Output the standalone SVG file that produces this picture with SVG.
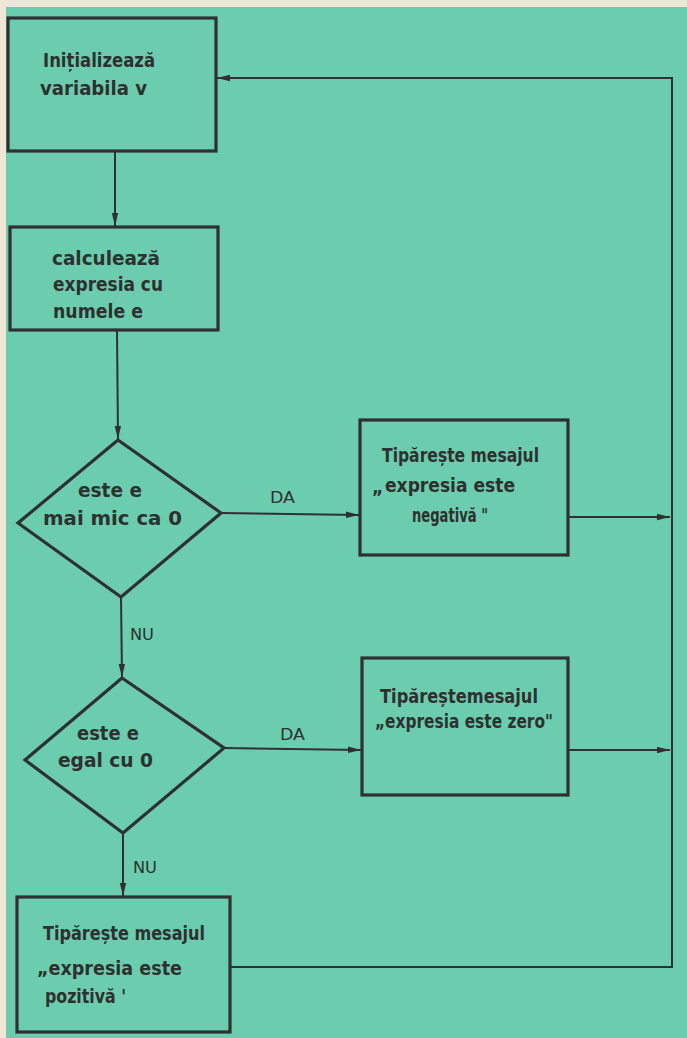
<svg xmlns="http://www.w3.org/2000/svg" width="687" height="1038" viewBox="0 0 687 1038">
<style>
.bx{fill:none;stroke:#2e3130;stroke-width:3.2;stroke-linejoin:miter}
.cn{fill:none;stroke:#2e3130;stroke-width:2}
.t{font-family:"DejaVu Sans Condensed","DejaVu Sans","Liberation Sans",sans-serif;font-weight:bold;font-size:19px;fill:#2e3130}
.lb{font-family:"DejaVu Sans Condensed","DejaVu Sans","Liberation Sans",sans-serif;font-size:16px;fill:#2e3130}
</style>
<defs>
<marker id="ah" markerUnits="userSpaceOnUse" markerWidth="14" markerHeight="8" refX="13" refY="4" orient="auto">
<path d="M0,0.8 L13,4 L0,7.2 Z" fill="#2e3130"/>
</marker>
</defs>
<rect x="0" y="0" width="687" height="1038" fill="#eee6d6"/>
<rect x="6" y="7" width="681" height="1031" fill="#6ccdae"/>

<g id="connectors">
<line class="cn" x1="115" y1="151" x2="115" y2="226" marker-end="url(#ah)"/>
<line class="cn" x1="117" y1="330" x2="118" y2="439" marker-end="url(#ah)"/>
<line class="cn" x1="221" y1="513" x2="359" y2="515" marker-end="url(#ah)"/>
<line class="cn" x1="568" y1="517" x2="670" y2="517" marker-end="url(#ah)"/>
<line class="cn" x1="121" y1="597" x2="122" y2="677" marker-end="url(#ah)"/>
<line class="cn" x1="224" y1="748" x2="361" y2="750" marker-end="url(#ah)"/>
<line class="cn" x1="568" y1="750" x2="670" y2="750" marker-end="url(#ah)"/>
<line class="cn" x1="123" y1="833" x2="123" y2="896" marker-end="url(#ah)"/>
<polyline class="cn" points="230,967 672,967 672,78 217,78" marker-end="url(#ah)"/>
<text class="lb" x="270" y="503" textLength="25" lengthAdjust="spacingAndGlyphs">DA</text>
<text class="lb" x="130" y="640" textLength="24" lengthAdjust="spacingAndGlyphs">NU</text>
<text class="lb" x="280" y="740" textLength="25" lengthAdjust="spacingAndGlyphs">DA</text>
<text class="lb" x="133" y="873" textLength="24" lengthAdjust="spacingAndGlyphs">NU</text>
</g>

<g id="n1">
<rect class="bx" x="8" y="18" width="208" height="133"/>
<text class="t" x="43" y="67" textLength="112" lengthAdjust="spacingAndGlyphs">Inițializează</text>
<text class="t" x="40" y="95" textLength="107" lengthAdjust="spacingAndGlyphs">variabila  v</text>
</g>

<g id="n2">
<rect class="bx" x="10" y="227" width="208" height="103"/>
<text class="t" x="52" y="265" textLength="108" lengthAdjust="spacingAndGlyphs">calculează</text>
<text class="t" x="53" y="291" textLength="110" lengthAdjust="spacingAndGlyphs">expresia cu</text>
<text class="t" x="53" y="318" textLength="90" lengthAdjust="spacingAndGlyphs">numele  e</text>
</g>

<g id="d1">
<polygon class="bx" points="118,440 221,513 121,597 18,523"/>
<text class="t" x="78" y="497" textLength="64" lengthAdjust="spacingAndGlyphs">este  e</text>
<text class="t" x="43" y="525" textLength="139" lengthAdjust="spacingAndGlyphs">mai mic  ca  0</text>
</g>

<g id="n3">
<rect class="bx" x="360" y="420" width="208" height="135"/>
<text class="t" x="382" y="462" textLength="157" lengthAdjust="spacingAndGlyphs">Tipărește mesajul</text>
<text class="t" x="372" y="494"><tspan>„</tspan><tspan x="385" y="492" textLength="130" lengthAdjust="spacingAndGlyphs">expresia  este</tspan></text>
<text class="t" x="412" y="522" textLength="76" lengthAdjust="spacingAndGlyphs">negativă  "</text>
</g>

<g id="d2">
<polygon class="bx" points="122,678 224,748 123,833 25,760"/>
<text class="t" x="77" y="740" textLength="62" lengthAdjust="spacingAndGlyphs">este  e</text>
<text class="t" x="58" y="767" textLength="95" lengthAdjust="spacingAndGlyphs">egal  cu  0</text>
</g>

<g id="n4">
<rect class="bx" x="362" y="658" width="206" height="137"/>
<text class="t" x="380" y="703" textLength="158" lengthAdjust="spacingAndGlyphs">Tipăreștemesajul</text>
<text class="t" x="375" y="728" textLength="178" lengthAdjust="spacingAndGlyphs">„expresia  este zero"</text>
</g>

<g id="n5">
<rect class="bx" x="17" y="897" width="213" height="135"/>
<text class="t" x="43" y="940" textLength="162" lengthAdjust="spacingAndGlyphs">Tipărește mesajul</text>
<text class="t" x="37" y="975" textLength="145" lengthAdjust="spacingAndGlyphs">„expresia  este</text>
<text class="t" x="45" y="1003" textLength="81" lengthAdjust="spacingAndGlyphs">pozitivă '</text>
</g>
</svg>
